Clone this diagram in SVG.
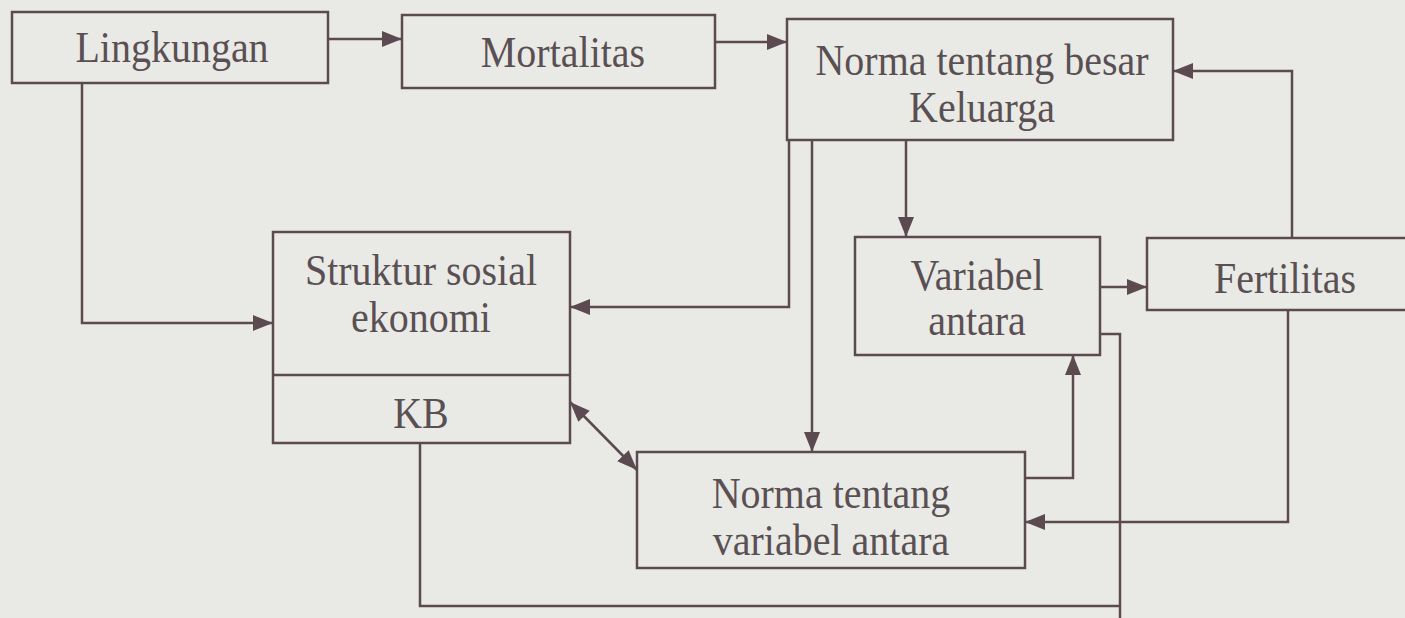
<svg xmlns="http://www.w3.org/2000/svg" width="1405" height="618" viewBox="0 0 1405 618">
<style>
.box{fill:none;stroke:#5b4b50;stroke-width:2.5}
.ln{fill:none;stroke:#5b4b50;stroke-width:2.5}
.t{font-family:"Liberation Serif","Times New Roman",serif;font-size:40px;fill:#5a5053;text-anchor:middle}
</style>
<defs>
<marker id="ah" markerUnits="userSpaceOnUse" markerWidth="22" markerHeight="18" refX="20" refY="8" orient="auto">
<path d="M0,0 L20,8 L0,16 Z" fill="#5b4b50"/>
</marker>
<marker id="as" markerUnits="userSpaceOnUse" markerWidth="22" markerHeight="18" refX="0" refY="8" orient="auto">
<path d="M20,0 L0,8 L20,16 Z" fill="#5b4b50"/>
</marker>
</defs>
<rect width="1405" height="618" fill="#e9eae6"/>
<g id="lingkungan"><rect class="box" x="12" y="12" width="316" height="71"/><text class="t" transform="translate(172,62) scale(1,1.12)">Lingkungan</text></g>
<g id="mortalitas"><rect class="box" x="402" y="15" width="313" height="73"/><text class="t" transform="translate(563,67) scale(1,1.12)">Mortalitas</text></g>
<g id="norma-besar"><rect class="box" x="787" y="19" width="386" height="121"/><text class="t" transform="translate(982,75) scale(1,1.12)">Norma tentang besar</text><text class="t" transform="translate(982,122) scale(1,1.12)">Keluarga</text></g>
<g id="struktur"><rect class="box" x="273" y="232" width="297" height="211"/><line class="ln" x1="273" y1="375" x2="570" y2="375"/><text class="t" transform="translate(421,285) scale(1,1.12)">Struktur sosial</text><text class="t" transform="translate(421,332) scale(1,1.12)">ekonomi</text><text class="t" transform="translate(421,428) scale(1,1.12)">KB</text></g>
<g id="variabel"><rect class="box" x="855" y="237" width="245" height="118"/><text class="t" transform="translate(977,290) scale(1,1.12)">Variabel</text><text class="t" transform="translate(977,335) scale(1,1.12)">antara</text></g>
<g id="fertilitas"><rect class="box" x="1147" y="238" width="270" height="72"/><text class="t" transform="translate(1285,293) scale(1,1.12)">Fertilitas</text></g>
<g id="norma-var"><rect class="box" x="637" y="452" width="388" height="116"/><text class="t" transform="translate(831,508) scale(1,1.12)">Norma tentang</text><text class="t" transform="translate(831,555) scale(1,1.12)">variabel antara</text></g>
<g id="connectors">
<line class="ln" x1="328" y1="39" x2="402" y2="39" marker-end="url(#ah)"/>
<line class="ln" x1="715" y1="42" x2="787" y2="42" marker-end="url(#ah)"/>
<polyline class="ln" points="82,83 82,323 273,323" marker-end="url(#ah)"/>
<polyline class="ln" points="789,140 789,307 570,307" marker-end="url(#ah)"/>
<line class="ln" x1="812" y1="140" x2="812" y2="452" marker-end="url(#ah)"/>
<line class="ln" x1="906" y1="140" x2="906" y2="237" marker-end="url(#ah)"/>
<line class="ln" x1="1100" y1="287" x2="1147" y2="287" marker-end="url(#ah)"/>
<polyline class="ln" points="1292,238 1292,71 1173,71" marker-end="url(#ah)"/>
<polyline class="ln" points="1288,310 1288,522 1025,522" marker-end="url(#ah)"/>
<polyline class="ln" points="1025,478 1073,478 1073,355" marker-end="url(#ah)"/>
<line class="ln" x1="570" y1="402" x2="637" y2="470" marker-start="url(#as)" marker-end="url(#ah)"/>
<polyline class="ln" points="1100,334 1120,334 1120,620"/>
<polyline class="ln" points="420,443 420,606 1120,606"/>
</g>
</svg>
